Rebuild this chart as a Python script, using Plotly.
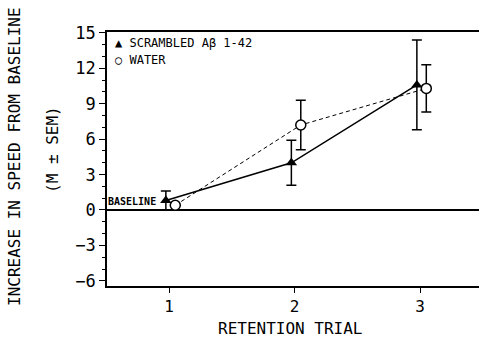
import plotly.graph_objects as go

trials = [1, 2, 3]
scr_mean = [0.8, 4.0, 10.6]
scr_sem = [0.8, 1.9, 3.8]
wat_mean = [0.4, 7.2, 10.3]
wat_sem = [0.0, 2.1, 2.0]
y_ticks = [-6, -3, 0, 3, 6, 9, 12, 15]
x_ticks = [1, 2, 3]
legend_labels = ["▲ SCRAMBLED Aβ 1-42", "○ WATER"]

SCR_OFF = -0.025
WAT_OFF = 0.05
FONT = "DejaVu Sans Mono"
L, R, T, B = 107, 0, 32, 56
PW, PH = 479 - L - R, 342 - T - B

fig = go.Figure()
fig.add_trace(go.Scatter(
    x=[t + SCR_OFF for t in trials], y=scr_mean,
    mode="lines+markers",
    line=dict(color="black", width=1.5),
    marker=dict(symbol="triangle-up", size=10, color="black"),
    error_y=dict(type="data", array=scr_sem, color="black", thickness=1.5, width=5),
    showlegend=False))
fig.add_trace(go.Scatter(
    x=[t + WAT_OFF for t in trials], y=wat_mean,
    mode="lines+markers",
    line=dict(color="black", width=1, dash="4px,3px"),
    marker=dict(symbol="circle", size=10, color="white", line=dict(color="black", width=1.5)),
    error_y=dict(type="data", array=wat_sem, color="black", thickness=1.5, width=5),
    showlegend=False))

fig.update_layout(
    width=479, height=342,
    margin=dict(l=L, r=R, t=T, b=B),
    paper_bgcolor="white", plot_bgcolor="white",
    font=dict(family=FONT, color="black", size=16),
    showlegend=False,
    xaxis=dict(range=[0.506, 3.47], tickvals=x_ticks, ticks="outside", ticklen=5,
               tickwidth=1, tickcolor="black", showline=True, linecolor="black",
               linewidth=1.5, mirror=True, showgrid=False, zeroline=False,
               tickfont=dict(size=16)),
    yaxis=dict(range=[-6.44, 15.08], tickvals=y_ticks, ticks="outside", ticklen=6,
               tickwidth=1, tickcolor="black", showline=True, linecolor="black",
               linewidth=1.5, showgrid=False, zeroline=True, zerolinecolor="black",
               zerolinewidth=1.5, tickfont=dict(size=17),
               ticktext=[str(v).replace("-", "−") for v in y_ticks],
               minor=dict(dtick=1, ticks="outside", ticklen=3, tickcolor="black",
                          showgrid=False)),
)
fig.add_annotation(text="RETENTION TRIAL", x=(290 - L) / PW, y=-(328 - 286) / PH,
                   xref="paper", yref="paper", xanchor="center", yanchor="middle",
                   showarrow=False, font=dict(size=16))
fig.add_annotation(text="INCREASE IN SPEED FROM BASELINE", textangle=-90, showarrow=False,
                   xref="paper", yref="paper", x=(14 - L) / PW, y=(286 - 157) / PH,
                   xanchor="center", yanchor="middle", font=dict(size=16))
fig.add_annotation(text="(M ± SEM)", textangle=-90, showarrow=False,
                   xref="paper", yref="paper", x=(52 - L) / PW, y=(286 - 150) / PH,
                   xanchor="center", yanchor="middle", font=dict(size=16))
for i, lab in enumerate(legend_labels):
    fig.add_annotation(text=lab, showarrow=False, xref="paper", yref="paper",
                       x=(113 - L) / PW, y=(286 - (43 + 17 * i)) / PH,
                       xanchor="left", yanchor="middle", font=dict(size=12))
fig.add_annotation(text="<b>BASELINE</b>", showarrow=False, xref="x", yref="y",
                   x=trials[0] + SCR_OFF - 0.06, y=0.1, xanchor="right", yanchor="bottom",
                   font=dict(size=10))
fig.write_html("out.html", config={"displayModeBar": False},
               post_script="document.body.style.margin='0px';document.body.style.overflow='hidden';")
